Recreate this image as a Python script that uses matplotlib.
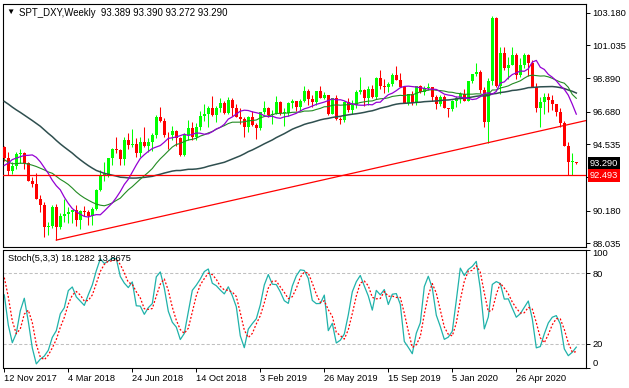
import datetime as dt
import numpy as np
import matplotlib.pyplot as plt
from matplotlib import transforms

plt.rcParams['font.family'] = ['Liberation Sans', 'DejaVu Sans']

symbol = 'SPT_DXY,Weekly'
first_week = dt.date(2017, 11, 12)

# weekly bars, first one = week of 12 Nov 2017
opens = [
    94.38, 93.65, 92.78, 93.10, 93.90, 93.94, 93.33, 92.12, 91.96, 90.94,
    90.57, 89.14, 89.19, 90.40, 89.09, 89.85, 89.94, 90.11, 90.23, 89.54,
    90.15, 90.11, 89.80, 90.30, 91.55, 92.53, 92.54, 93.64, 94.23, 94.17,
    93.56, 94.79, 94.52, 94.59, 94.00, 94.68, 94.42, 94.67, 95.18, 96.36,
    96.09, 95.15, 95.13, 95.40, 94.93, 93.85, 95.13, 95.61, 95.01, 95.70,
    96.39, 96.53, 96.91, 96.46, 96.93, 97.27, 96.57, 97.46, 96.93, 96.33,
    96.18, 95.66, 96.36, 95.83, 95.58, 96.63, 96.90, 96.45, 96.54, 97.30,
    96.60, 96.62, 97.28, 97.39, 96.97, 97.40, 98.01, 97.49, 97.33, 98.03,
    97.61, 97.75, 96.53, 97.55, 96.22, 96.13, 97.29, 96.81, 97.14, 98.00,
    98.10, 97.55, 98.15, 97.66, 98.86, 98.38, 98.29, 98.48, 99.12, 98.79,
    98.30, 97.28, 97.83, 97.23, 98.35, 98.00, 98.24, 98.27, 97.67, 97.18,
    97.67, 96.92, 96.84, 97.36, 97.61, 97.87, 97.39, 98.68, 99.13, 99.26,
    98.13, 95.99, 98.72, 102.82, 98.38, 100.56, 99.52, 99.77, 100.37, 99.08,
    99.75, 100.37, 99.86, 98.33, 96.94, 97.34, 97.62, 97.43, 97.17, 96.66,
    95.92, 94.43, 93.35, 93.389]
highs = [
    94.45, 94.05, 93.35, 94.05, 94.25, 94.05, 93.35, 92.40, 92.65, 91.20,
    90.75, 89.45, 90.55, 90.60, 90.05, 90.95, 90.40, 90.25, 90.55, 90.25,
    90.50, 90.20, 90.45, 91.60, 92.85, 93.40, 93.65, 94.30, 95.03, 94.25,
    95.05, 95.25, 95.55, 94.95, 95.00, 95.65, 94.95, 95.25, 96.45, 96.98,
    96.25, 95.35, 95.75, 95.50, 95.00, 95.30, 96.15, 96.00, 95.95, 96.70,
    97.20, 97.05, 97.70, 97.05, 97.55, 97.40, 97.65, 97.55, 97.20, 96.95,
    96.30, 96.40, 96.70, 95.95, 96.65, 97.35, 97.00, 96.80, 97.70, 97.40,
    96.95, 97.30, 97.50, 97.40, 97.50, 98.35, 98.15, 97.75, 98.05, 98.35,
    98.00, 97.80, 97.55, 97.75, 96.35, 97.35, 97.55, 97.45, 98.10, 98.95,
    98.15, 98.35, 98.45, 98.95, 99.40, 98.80, 98.60, 99.25, 99.67, 99.20,
    98.40, 97.85, 98.05, 98.40, 98.45, 98.40, 98.55, 98.30, 97.80, 97.75,
    97.80, 96.95, 97.45, 97.70, 97.95, 98.20, 98.70, 99.15, 99.90, 99.45,
    98.30, 98.90, 102.99, 102.90, 100.95, 100.95, 100.30, 100.90, 100.55, 100.20,
    100.55, 100.45, 100.10, 98.55, 97.65, 97.90, 97.90, 97.80, 97.20, 96.95,
    96.10, 94.70, 93.99, 93.390]
lows = [
    93.45, 92.50, 92.60, 92.95, 93.30, 92.95, 92.10, 91.75, 90.92, 90.10,
    88.44, 88.60, 89.05, 88.25, 88.95, 89.45, 89.40, 89.40, 89.20, 88.95,
    89.85, 89.25, 89.25, 90.25, 91.45, 92.15, 92.40, 93.15, 93.95, 93.20,
    93.20, 94.25, 94.35, 93.70, 93.70, 94.35, 94.05, 94.10, 94.95, 96.00,
    95.00, 94.25, 94.85, 94.45, 93.80, 93.80, 94.80, 94.80, 94.80, 95.50,
    96.10, 95.70, 96.40, 96.00, 96.65, 96.55, 96.55, 96.40, 96.30, 95.85,
    95.05, 95.35, 95.75, 94.90, 95.50, 96.55, 96.30, 95.90, 96.50, 96.45,
    95.75, 96.40, 96.95, 96.75, 96.75, 97.30, 97.10, 97.00, 97.10, 97.55,
    97.50, 96.45, 96.50, 96.15, 95.85, 96.00, 96.65, 96.55, 96.95, 97.85,
    97.05, 97.10, 97.55, 97.50, 98.20, 97.90, 97.95, 98.35, 98.75, 98.30,
    97.25, 97.10, 97.10, 97.15, 97.90, 97.80, 98.10, 97.35, 96.85, 97.05,
    96.90, 96.35, 96.75, 97.00, 97.25, 97.35, 97.35, 98.55, 99.00, 97.90,
    95.70, 94.65, 98.45, 98.30, 97.85, 99.40, 98.80, 99.75, 98.80, 98.95,
    99.55, 99.05, 98.30, 96.65, 95.70, 96.50, 96.65, 96.80, 96.40, 95.65,
    94.40, 92.54, 92.52, 93.272]
closes = [
    93.65, 92.78, 93.10, 93.90, 93.94, 93.33, 92.12, 91.96, 90.94, 90.57,
    89.14, 89.19, 90.40, 89.09, 89.85, 89.94, 90.11, 90.23, 89.54, 90.15,
    90.11, 89.80, 90.30, 91.55, 92.53, 92.54, 93.64, 94.23, 94.17, 93.56,
    94.79, 94.52, 94.59, 94.00, 94.68, 94.42, 94.67, 95.18, 96.36, 96.09,
    95.15, 95.13, 95.40, 94.93, 93.85, 95.13, 95.61, 95.01, 95.70, 96.39,
    96.53, 96.91, 96.46, 96.93, 97.27, 96.57, 97.46, 96.93, 96.33, 96.18,
    95.66, 96.36, 95.83, 95.58, 96.63, 96.90, 96.45, 96.54, 97.30, 96.60,
    96.62, 97.28, 97.39, 96.97, 97.40, 98.01, 97.49, 97.33, 98.03, 97.61,
    97.75, 96.53, 97.55, 96.22, 96.13, 97.29, 96.81, 97.14, 98.00, 98.10,
    97.55, 98.15, 97.66, 98.86, 98.38, 98.29, 98.48, 99.12, 98.79, 98.30,
    97.28, 97.83, 97.23, 98.35, 98.00, 98.24, 98.27, 97.67, 97.18, 97.67,
    96.92, 96.84, 97.36, 97.61, 97.87, 97.39, 98.68, 99.13, 99.26, 98.13,
    95.99, 98.72, 102.82, 98.38, 100.56, 99.52, 99.77, 100.37, 99.08, 99.75,
    100.37, 99.86, 98.33, 96.94, 97.34, 97.62, 97.43, 97.17, 96.66, 95.92,
    94.43, 93.35, 93.43, 93.290]

# weekly closes before the first bar (needed by the 50 week average)
closes_before = [
    101.59, 102.95, 102.94, 102.21, 102.22, 101.17, 100.75, 100.55, 99.76, 100.80,
    100.95, 101.12, 101.51, 101.23, 100.36, 99.78, 100.35, 101.08, 100.52, 99.91,
    99.05, 98.60, 99.19, 97.13, 97.40, 96.69, 97.25, 97.15, 97.24, 95.63,
    96.01, 95.15, 93.86, 93.33, 93.54, 93.06, 93.42, 92.68, 92.84, 91.33,
    91.86, 92.17, 93.07, 93.83, 93.07, 93.70, 94.91, 94.73, 94.38]
# highs / lows of the last 8 weeks before the first bar (for the stochastic)
highs_before = [92.70, 93.65, 94.27, 93.85, 93.85, 95.15, 95.15, 95.05]
lows_before = [91.45, 92.05, 93.05, 92.75, 92.95, 93.45, 94.25, 94.15]

fast_period, fast_shift = 10, 2
mid_period = 20
slow_period = 50
k_period, d_period, slowing = 5, 3, 3
stoch_title = 'Stoch(5,3,3) 18.1282 13.8675'
stoch_levels = [20, 80]
price_ticks = [103.180, 101.035, 98.890, 96.680, 94.535, 92.390, 90.180, 88.035]
hidden_tick = 92.390  # covered by the line label in the terminal
hline_level = 92.493
trend_bars = (13, 121)  # the trend line joins the lows of these two bars

o = np.array(opens)
h = np.array(highs)
l = np.array(lows)
c = np.array(closes)
n = len(c)
x = np.arange(n)


def sma(a, p):
    out = np.full(len(a), np.nan)
    cs = np.cumsum(np.insert(a, 0, 0.0))
    out[p - 1:] = (cs[p:] - cs[:-p]) / p
    return out


all_close = np.array(closes_before + closes)
pre = len(closes_before)
ma_fast = sma(all_close, fast_period)[pre - fast_shift:pre - fast_shift + n]
ma_mid = sma(all_close, mid_period)[pre:]
ma_slow = sma(all_close, slow_period)[pre:]

# stochastic 5,3,3
sh = np.array(highs_before + highs)
sl = np.array(lows_before + lows)
sc = all_close[-len(sh):]
m = len(sh)
hh = np.array([sh[max(0, i - k_period + 1):i + 1].max() for i in range(m)])
ll = np.array([sl[max(0, i - k_period + 1):i + 1].min() for i in range(m)])
num = sc - ll
den = hh - ll
k_line = np.array([num[max(0, i - slowing + 1):i + 1].sum() / den[max(0, i - slowing + 1):i + 1].sum() * 100
                   for i in range(m)])
d_line = np.array([k_line[max(0, i - d_period + 1):i + 1].mean() for i in range(m)])
k_line = k_line[len(highs_before):]
d_line = d_line[len(highs_before):]

W, H = 629, 388
fig = plt.figure(figsize=(W / 100, H / 100), dpi=100)
fig.patch.set_facecolor('white')


def px_axes(x0, y0, x1, y1):
    return fig.add_axes([x0 / W, 1 - y1 / H, (x1 - x0) / W, (y1 - y0) / H])


ax = px_axes(3.5, 3.5, 585.5, 246.5)
ax2 = px_axes(3.5, 249.5, 585.5, 367.6)
xlim = (-0.2, 145.3)

# candles
up = c >= o
col = np.where(up, '#00ff00', '#ff0000')
ax.vlines(x, l, h, colors=col, lw=0.75, zorder=3)
body = np.maximum(np.abs(c - o), 0.03)
ax.bar(x, body, bottom=np.minimum(o, c), width=0.72, color=col, lw=0, zorder=4)

ax.plot(x, ma_slow, color='#2f4f4f', lw=1.1, zorder=5)
ax.plot(x, ma_mid, color='#228b22', lw=0.8, zorder=5)
ax.plot(x, ma_fast, color='#9400d3', lw=0.9, zorder=5)

# trend line through two lows, extended to the right
b0, b1 = trend_bars
slope = (l[b1] - l[b0]) / (b1 - b0)
tx = np.array([b0, xlim[1]])
ax.plot(tx, l[b0] + slope * (tx - b0), color='red', lw=0.9, zorder=6)
ax.axhline(hline_level, color='red', lw=0.9, zorder=6)

ax.set_xlim(*xlim)
ax.set_ylim(87.829, 103.784)
ax.set_xticks([])
ax.yaxis.tick_right()
ax.set_yticks(price_ticks)
ax.set_yticklabels(['' if v == hidden_tick else f'{v:.3f}' for v in price_ticks])
ax.tick_params(axis='y', length=3, width=0.7, pad=2, labelsize=6.7)

trans = transforms.blended_transform_factory(ax.transAxes, ax.transData)
trans = transforms.offset_copy(trans, fig=fig, x=4, y=0, units='dots')
ax.text(1.0, c[-1], f'{c[-1]:.3f}', transform=trans, ha='left', va='center', color='white',
        fontsize=6.7, clip_on=False, zorder=10,
        bbox=dict(boxstyle='square,pad=0.2', fc='black', ec='none'))
ax.text(1.0, hline_level, f'{hline_level:.3f}', transform=trans, ha='left', va='center', color='white',
        fontsize=6.7, clip_on=False, zorder=11,
        bbox=dict(boxstyle='square,pad=0.2', fc='red', ec='none'))

fig.text(10 / W, 1 - 12.5 / H, '\u25bc', fontsize=6, ha='center', va='center')
fig.text(19 / W, 1 - 12.5 / H, f'{symbol}  {o[-1]:.3f} {h[-1]:.3f} {l[-1]:.3f} {c[-1]:.3f}',
         fontsize=6.9, ha='left', va='center')

# stochastic panel
for v in stoch_levels:
    ax2.axhline(v, color='#c0c0c0', lw=0.75, dashes=(3, 2))
ax2.plot(x, k_line, color='#20b2aa', lw=0.9)
ax2.plot(x, d_line, color='red', lw=0.9, dashes=(1.5, 1.5))
ax2.set_xlim(*xlim)
ax2.set_ylim(0, 100)
ax2.yaxis.tick_right()
ax2.set_yticks([0, 20, 80, 100])
ax2.set_yticklabels(['0', '20', '80', '100'])
ax2.tick_params(axis='y', length=3, width=0.7, pad=2, labelsize=6.7)
yt = ax2.yaxis.get_major_ticks()
yt[0].label2.set_va('bottom')
yt[-1].label2.set_va('top')

xt = list(range(0, n, 16))
dates = [first_week + dt.timedelta(weeks=i) for i in xt]
ax2.set_xticks(xt)
ax2.set_xticklabels([f'{d.day} {d:%b} {d.year}' for d in dates], ha='left')
ax2.tick_params(axis='x', length=3, width=0.7, pad=1.5, labelsize=6.7)
fig.text(8 / W, 1 - 258.5 / H, stoch_title, fontsize=6.7, ha='left', va='center')

for a in (ax, ax2):
    for s in a.spines.values():
        s.set_linewidth(0.8)
        s.set_color('black')

fig.savefig('out.png', dpi=100, facecolor='white')
